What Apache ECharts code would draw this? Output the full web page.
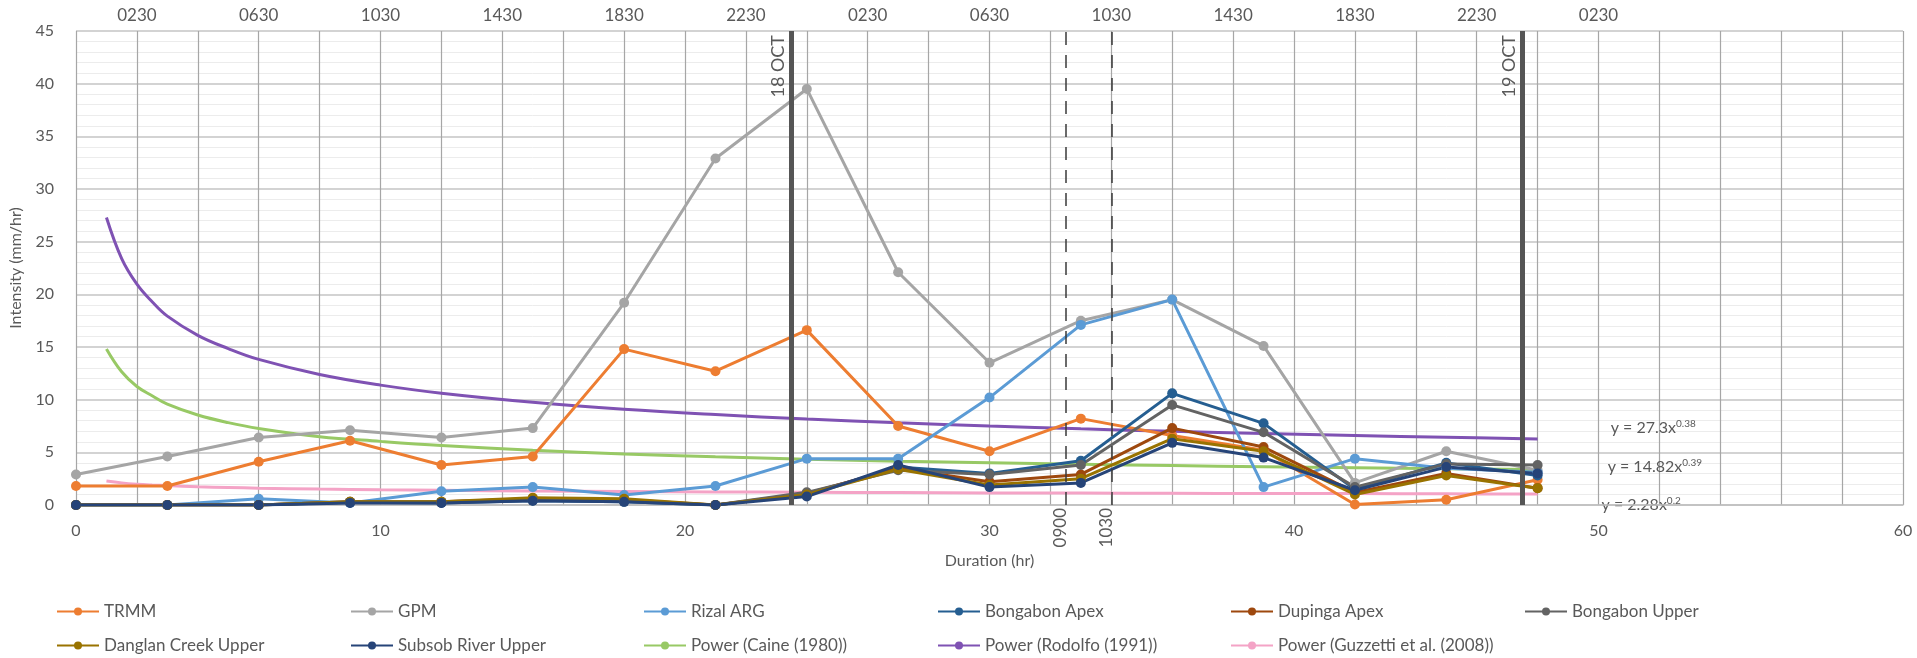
<!DOCTYPE html>
<html><head><meta charset="utf-8">
<script src="https://cdn.jsdelivr.net/npm/echarts@6/dist/echarts.min.js"></script>
<style>html,body{margin:0;padding:0;background:#fff}#c{width:1917px;height:658px}</style>
</head><body><div id="c"></div><script>
// ---- data ----
const xHours = [0,3,6,9,12,15,18,21,24,27,30,33,36,39,42,45,48];
const trmm          = [1.8,1.8,4.1,6.1,3.8,4.6,14.8,12.7,16.6,7.5,5.1,8.2,6.6,5.2,0.05,0.5,2.4];
const gpm           = [2.9,4.6,6.4,7.1,6.4,7.3,19.2,32.9,39.5,22.1,13.5,17.5,19.5,15.1,2.1,5.1,3.3];
const rizalARG      = [0,0,0.6,0.2,1.3,1.7,0.95,1.8,4.4,4.4,10.2,17.1,19.5,1.7,4.4,3.5,3.1];
const bongabonApex  = [0,0,0,0.25,0.2,0.4,0.3,0,1.0,3.6,3.0,4.2,10.6,7.75,1.5,4.0,2.8];
const dupingaApex   = [0,0,0,0.3,0.3,0.6,0.5,0,1.1,3.5,2.2,2.9,7.3,5.5,1.2,3.0,1.6];
const bongabonUpper = [0,0,0,0.3,0.3,0.5,0.4,0,1.2,3.3,2.9,3.8,9.5,6.9,1.7,3.9,3.8];
const danglanUpper  = [0,0,0,0.3,0.3,0.7,0.6,0,1.0,3.4,1.9,2.5,6.3,5.1,1.0,2.8,1.6];
const subsobUpper   = [0,0,0,0.2,0.2,0.4,0.3,0,0.8,3.8,1.7,2.1,5.9,4.5,1.4,3.6,3.0];

const powerX   = [1,1.5,2,2.5,3,4,5,6,8,10,12,15,18,21,24,27,30,33,36,39,42,45,48];
const caine    = [14.82,12.65,11.25,10.37,9.57,8.54,7.82,7.27,6.49,6.04,5.65,5.19,4.84,4.57,4.35,4.16,4.01,3.87,3.75,3.63,3.54,3.45,3.37];
const rodolfo  = [27.3,23.4,20.97,19.3,17.93,16.11,14.85,13.82,12.39,11.38,10.62,9.76,9.10,8.59,8.16,7.81,7.50,7.23,6.99,6.79,6.60,6.43,6.27];
const guzzetti = [2.28,2.10,1.98,1.90,1.84,1.73,1.66,1.60,1.51,1.44,1.39,1.32,1.28,1.24,1.21,1.18,1.15,1.13,1.11,1.09,1.08,1.06,1.05];

const topTickPos    = [2,6,10,14,18,22,26,30,34,38,42,46,50];
const topTickLabels = ['0230','0630','1030','1430','1830','2230','0230','0630','1030','1430','1830','2230','0230'];

const dayLinePos    = [23.5, 47.5];
const dayLineLabels = ['18 OCT', '19 OCT'];
const timeLinePos    = [32.5, 34];
const timeLineLabels = ['0900', '1030'];

const eqX    = [50.4, 50.3, 50.1];
const eqY    = [7.3, 3.6, 0.0];
const eqBase = ['y = 27.3x', 'y = 14.82x', 'y = 2.28x'];
const eqExp  = ['0.38', '0.39', '0.2'];

const seriesNames = ['TRMM','GPM','Rizal ARG','Bongabon Apex','Dupinga Apex','Bongabon Upper',
  'Danglan Creek Upper','Subsob River Upper','Power (Caine (1980))','Power (Rodolfo (1991))','Power (Guzzetti et al. (2008))'];

// ---- chart ----
const FONT = 'Lato, "Open Sans", sans-serif';
const TXT = '#595959';
const chart = echarts.init(document.getElementById('c'));

function dataSeries(name, vals, color) {
  return {
    name, type: 'line', animation: false,
    data: xHours.map((x, i) => [x, vals[i]]),
    symbol: 'circle', symbolSize: 10, showSymbol: true,
    lineStyle: { width: 3, color }, itemStyle: { color },
    emphasis: { disabled: true }, z: 3
  };
}
function powerSeries(name, vals, color) {
  return {
    name, type: 'line', animation: false,
    data: powerX.map((x, i) => [x, vals[i]]),
    symbol: 'none', showSymbol: false, smooth: 0.4,
    lineStyle: { width: 3, color }, itemStyle: { color },
    emphasis: { disabled: true }, z: 2
  };
}

const topMap = {};
topTickPos.forEach((p, i) => topMap[p] = topTickLabels[i]);

// legend: 6 equal columns, 2 rows (one legend component per entry)
const legendLeft = [56, 350, 643, 937, 1230, 1524];
const legendTop = [603, 637];
const legends = seriesNames.map((nm, k) => ({
  left: legendLeft[k % 6], top: legendTop[Math.floor(k / 6)],
  orient: 'horizontal', itemWidth: 42, itemHeight: 10, padding: 0,
  selectedMode: false, data: [nm],
  textStyle: { fontSize: 17, color: TXT, fontFamily: FONT }
}));

const option = {
  animation: false,
  backgroundColor: '#fff',
  textStyle: { fontFamily: FONT },
  grid: { left: 75, right: 14, top: 31, bottom: 153, containLabel: false },
  legend: legends,
  xAxis: [{
    type: 'value', min: 0, max: 60, interval: 2,
    name: 'Duration (hr)', nameLocation: 'middle', nameGap: 48,
    nameTextStyle: { fontSize: 16, color: TXT, fontFamily: FONT },
    axisLine: { show: true, lineStyle: { color: '#bfbfbf', width: 1.5 } },
    axisTick: { show: false },
    axisLabel: { fontSize: 16, color: TXT, fontFamily: FONT, margin: 18,
      formatter: v => (v % 10 === 0 ? String(v) : '') },
    splitLine: { show: true, lineStyle: { color: '#a6a6a6', width: 1.2 } }
  }, {
    type: 'value', min: 0, max: 60, interval: 2, position: 'top',
    axisLine: { show: false }, axisTick: { show: false },
    axisLabel: { fontSize: 17, color: TXT, fontFamily: FONT, margin: 7,
      formatter: v => (topMap[v] || '') },
    splitLine: { show: false }
  }],
  yAxis: {
    type: 'value', min: 0, max: 45, interval: 5,
    name: 'Intensity (mm/hr)', nameLocation: 'middle', nameGap: 52,
    nameTextStyle: { fontSize: 16, color: TXT, fontFamily: FONT },
    axisLine: { show: false }, axisTick: { show: false },
    axisLabel: { fontSize: 16, color: TXT, fontFamily: FONT, margin: 22 },
    splitLine: { show: true, lineStyle: { color: '#c4c4c4', width: 1.5 } },
    minorTick: { show: false, splitNumber: 5 },
    minorSplitLine: { show: true, lineStyle: { color: '#ececec', width: 1 } }
  },
  series: [
    powerSeries(seriesNames[8], caine, '#98c965'),
    powerSeries(seriesNames[9], rodolfo, '#7f52b3'),
    powerSeries(seriesNames[10], guzzetti, '#f4a3c6'),
    dataSeries(seriesNames[0], trmm, '#ed7d31'),
    dataSeries(seriesNames[1], gpm, '#a5a5a5'),
    dataSeries(seriesNames[2], rizalARG, '#5b9bd5'),
    dataSeries(seriesNames[3], bongabonApex, '#255e91'),
    dataSeries(seriesNames[4], dupingaApex, '#9e480e'),
    dataSeries(seriesNames[5], bongabonUpper, '#636363'),
    dataSeries(seriesNames[6], danglanUpper, '#997300'),
    dataSeries(seriesNames[7], subsobUpper, '#264478'),
    {
      name: 'refLines', type: 'line', data: [], z: 4, silent: true,
      markLine: {
        silent: true, symbol: ['none', 'none'], animation: false,
        data: dayLinePos.map((p, i) => ({
          xAxis: p,
          lineStyle: { color: '#555555', width: 5, type: 'solid' },
          label: { show: true, formatter: dayLineLabels[i], position: 'insideEndTop',
            fontSize: 18, color: TXT, fontFamily: FONT, distance: 4 }
        })).concat(timeLinePos.map(p => ({
          xAxis: p,
          lineStyle: { color: '#3a3a3a', width: 1.5, type: [13, 10] },
          label: { show: false }
        })))
      }
    }
  ]
};
chart.setOption(option);

// texts placed through the chart's own coordinate conversion
const graphics = [];
timeLinePos.forEach((p, i) => {
  const pt = chart.convertToPixel({ xAxisIndex: 0, yAxisIndex: 0 }, [p, 0]);
  graphics.push({
    type: 'text', x: pt[0] - 5, y: pt[1] + 3, rotation: Math.PI / 2, silent: true,
    style: { text: timeLineLabels[i], fill: TXT, fontSize: 17, fontFamily: FONT,
      align: 'right', verticalAlign: 'middle' }
  });
});
eqBase.forEach((b, i) => {
  const pt = chart.convertToPixel({ xAxisIndex: 0, yAxisIndex: 0 }, [eqX[i], eqY[i]]);
  graphics.push({
    type: 'text', x: pt[0], y: pt[1], silent: true,
    style: {
      text: '{a|' + b + '}{b|' + eqExp[i] + '}',
      align: 'left', verticalAlign: 'middle',
      rich: {
        a: { fontSize: 16, fill: TXT, fontFamily: FONT },
        b: { fontSize: 10, fill: TXT, fontFamily: FONT, padding: [0, 0, 9, 0] }
      }
    }
  });
});
chart.setOption({ graphic: graphics });
</script></body></html>
